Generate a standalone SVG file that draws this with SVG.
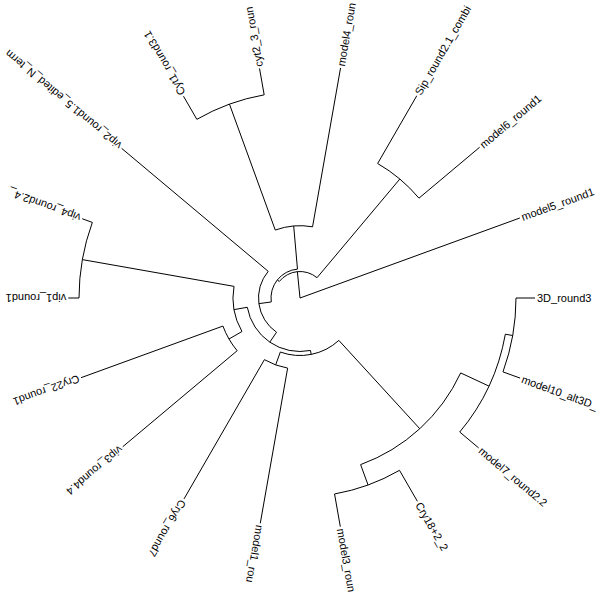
<svg xmlns="http://www.w3.org/2000/svg" width="600" height="600" viewBox="0 0 600 600">
<style>
.e{fill:none;stroke:#000;stroke-width:1;stroke-linecap:butt}
.t{font-family:"Liberation Sans",Arial,Helvetica,sans-serif;font-size:11px;fill:#000}
</style>
<rect width="600" height="600" fill="#fff"/>
<g id="edges" class="e">
<!-- tip branches -->
<path d="M516,298L535,298"/>
<path d="M502.97,371.88L520.08,378.10"/>
<path d="M459.72,432.02L478.64,447.90"/>
<path d="M399.5,470.34L417.35,501.26"/>
<path d="M334.56,493.98L340.32,526.67"/>
<path d="M287.64,368.12L260.27,523.32"/>
<path d="M264.4,359.66L184,498.92"/>
<path d="M237.18,350.71L122.74,446.74"/>
<path d="M222.95,326.05L81.05,377.69"/>
<path d="M79,298L68.3,298"/>
<path d="M92.33,222.41L82.18,218.72"/>
<path d="M268.21,271.32L121.66,148.36"/>
<path d="M196.85,119.34L183.5,96.22"/>
<path d="M264.18,94.83L259.54,68.54"/>
<path d="M312.55,226.8L340.56,67.95"/>
<path d="M377.65,163.51L416.75,95.78"/>
<path d="M418.97,198.17L479.64,147.27"/>
<path d="M300,298L519.89,217.97"/>
<!-- internal branches -->
<path d="M505.33,334.21L512.72,335.51"/>
<path d="M460.69,372.93L488.97,386.12"/>
<path d="M360.64,464.61L368.06,485"/>
<path d="M338.85,340.39L419.78,428.72"/>
<path d="M280.33,352.03L275.65,364.91"/>
<path d="M310.44,350.47L311.22,354.4"/>
<path d="M241.98,331.5L228.99,339"/>
<path d="M234.02,286.37L82.36,259.62"/>
<path d="M247.31,307.29L234.02,309.63"/>
<path d="M276.56,332.25L269.78,342.15"/>
<path d="M271.27,301.94L258.88,303.64"/>
<path d="M275.27,230.06L229.44,104.14"/>
<path d="M297.47,269.11L293.7,225.98"/>
<path d="M279.29,281.47L277.34,279.91"/>
<path d="M317.03,277.7L399.83,179.03"/>
<path d="M300,298L297.37,271.63"/>
<!-- arcs -->
<path d="M516,298A216,216 0 0 1 502.97,371.88"/>
<path d="M505.33,334.21A208.5,208.5 0 0 1 459.72,432.02"/>
<path d="M399.5,470.34A199,199 0 0 1 334.56,493.98"/>
<path d="M460.69,372.93A177.3,177.3 0 0 1 360.64,464.61"/>
<path d="M287.64,368.12A71.2,71.2 0 0 1 264.4,359.66"/>
<path d="M338.85,340.39A57.5,57.5 0 0 1 280.33,352.03"/>
<path d="M237.18,350.71A82,82 0 0 1 222.95,326.05"/>
<path d="M79,298A221,221 0 0 1 92.33,222.41"/>
<path d="M241.98,331.5A67,67 0 0 1 234.02,286.37"/>
<path d="M310.44,350.47A53.5,53.5 0 0 1 247.31,307.29"/>
<path d="M276.56,332.25A41.5,41.5 0 0 1 268.21,271.32"/>
<path d="M196.85,119.34A206.3,206.3 0 0 1 264.18,94.83"/>
<path d="M275.27,230.06A72.3,72.3 0 0 1 312.55,226.8"/>
<path d="M271.27,301.94A29,29 0 0 1 297.47,269.11"/>
<path d="M377.65,163.51A155.3,155.3 0 0 1 418.97,198.17"/>
<path d="M279.29,281.47A26.5,26.5 0 0 1 317.03,277.7"/>
</g>
<g id="tip-3D_round3"><text class="t" transform="translate(537,298) rotate(0)" dy="0.35em">3D_round3</text></g>
<g id="tip-model10"><text class="t" transform="translate(521.96,378.79) rotate(20)" dy="0.35em">model10_alt3D_</text></g>
<g id="tip-model7"><text class="t" transform="translate(480.17,449.18) rotate(40)" dy="0.35em">model7_round2.2</text></g>
<g id="tip-Cry18"><text class="t" transform="translate(418.35,502.99) rotate(60)" dy="0.35em">Cry18+2_2</text></g>
<g id="tip-model3"><text class="t" transform="translate(340.67,528.64) rotate(80)" dy="0.35em">model3_roun</text></g>
<g id="tip-model1"><text class="t" transform="translate(259.92,525.29) rotate(100)" dy="0.35em">model1_rou</text></g>
<g id="tip-Cry6"><text class="t" transform="translate(183,500.65) rotate(120)" dy="0.35em">Cry6_round7</text></g>
<g id="tip-vip3"><text class="t" transform="translate(121.21,448.03) rotate(140)" dy="0.35em">vip3_round4.4</text></g>
<g id="tip-Cry22"><text class="t" transform="translate(79.17,378.37) rotate(160)" dy="0.35em">Cry22_round1</text></g>
<g id="tip-vip1"><text class="t" transform="translate(66.3,298) rotate(180)" dy="0.35em">vip1_round1</text></g>
<g id="tip-vip4"><text class="t" transform="translate(80.3,218.04) rotate(200)" dy="0.35em">vip4_round2.4_</text></g>
<g id="tip-vip2"><text class="t" transform="translate(120.13,147.08) rotate(220)" dy="0.35em">vip2_round1.5_edited_N_term</text></g>
<g id="tip-Cyt1"><text class="t" transform="translate(182.5,94.48) rotate(240)" dy="0.35em">Cyt1_round3.1</text></g>
<g id="tip-cyt2"><text class="t" transform="translate(259.19,66.57) rotate(260)" dy="0.35em">cyt2_3_roun</text></g>
<g id="tip-model4"><text class="t" transform="translate(340.91,65.98) rotate(280)" dy="0.35em">model4_roun</text></g>
<g id="tip-Sip"><text class="t" transform="translate(417.75,94.05) rotate(300)" dy="0.35em">Sip_round2.1_combi</text></g>
<g id="tip-model6"><text class="t" transform="translate(481.17,145.98) rotate(320)" dy="0.35em">model6_round1</text></g>
<g id="tip-model5"><text class="t" transform="translate(521.77,217.28) rotate(340)" dy="0.35em">model5_round1</text></g>
</svg>
